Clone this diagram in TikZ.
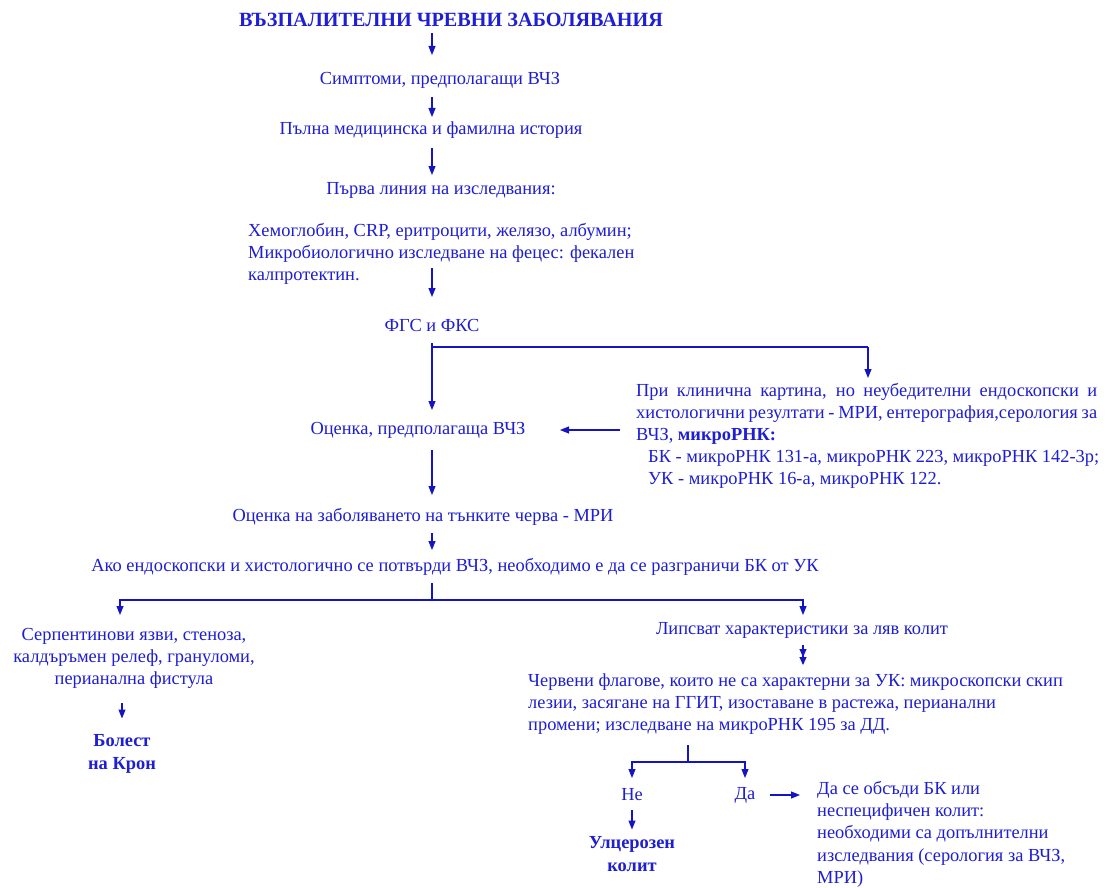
\documentclass[tikz,border=0pt]{standalone}
\usepackage{fontspec}
\setmainfont{Liberation Serif}
\usetikzlibrary{arrows.meta}
\definecolor{txt}{RGB}{30,30,210}
\definecolor{lnc}{RGB}{20,20,195}
\begin{document}
\begin{tikzpicture}[x=1pt,y=-1pt,
 every node/.style={inner sep=0pt, text=txt, font=\fontsize{18.4}{22}\selectfont},
 arr/.style={draw=lnc, line width=1.1pt, -{Triangle[length=9pt,width=7pt]}},
 darr/.style={draw=lnc, line width=1.1pt, -{Triangle[length=8pt,width=7pt]Triangle[length=8pt,width=7pt]}},
 lnk/.style={draw=lnc, line width=1.1pt},
 bold/.style={font=\fontsize{18.4}{23}\selectfont\bfseries}]
\fill[white] (0,0) rectangle (1113,888);
\useasboundingbox (0,0) rectangle (1113,888);

\node[font=\fontsize{20.2}{24}\selectfont\bfseries] (t) at (451,20) {ВЪЗПАЛИТЕЛНИ ЧРЕВНИ ЗАБОЛЯВАНИЯ};
\node (s) at (440,80) {Симптоми, предполагащи ВЧЗ};
\node (h) at (431,130) {Пълна медицинска и фамилна история};
\node (p) at (441,190) {Първа линия на изследвания:};
\node[anchor=north west, align=left] (lab) at (248,223) {Хемоглобин, CRP, еритроцити, желязо, албумин;\\ Микробиологично изследване на фецес: фекален\\ калпротектин.};
\node (f) at (432,325) {ФГС и ФКС};
\node (o) at (418,430) {Оценка, предполагаща ВЧЗ};
\node[anchor=north west, align=left] (r) at (636,383) {\makebox[461pt][s]{При клинична картина, но неубедителни ендоскопски и}\\
\makebox[461pt][s]{хистологични резултати - МРИ, ентерография,серология за}\\
ВЧЗ, \textbf{микроРНК:}\\
\hspace*{12pt}БК - микроРНК 131-а, микроРНК 223, микроРНК 142-3р;\\
\hspace*{12pt}УК - микроРНК 16-а, микроРНК 122.};
\node (m) at (423,517) {Оценка на заболяването на тънките черва - МРИ};
\node (a) at (455,567) {Ако ендоскопски и хистологично се потвърди ВЧЗ, необходимо е да се разграничи БК от УК};
\node[align=center] (c) at (134,658) {Серпентинови язви, стеноза,\\ калдъръмен релеф, грануломи,\\ перианална фистула};
\node[bold, align=center] (k) at (122,753.5) {Болест\\ на Крон};
\node (l) at (802,630) {Липсват характеристики за ляв колит};
\node[anchor=north west, align=left] (rf) at (528,674) {Червени флагове, които не са характерни за УК: микроскопски скип\\ лезии, засягане на ГГИТ, изоставане в растежа, перианални\\ промени; изследване на микроРНК 195 за ДД.};
\node (ne) at (632,795) {Не};
\node (da) at (745,795) {Да};
\node[anchor=north west, align=left, font=\fontsize{18.4}{22.3}\selectfont] (ds) at (817,781) {Да се обсъди БК или\\ неспецифичен колит:\\ необходими са допълнителни\\ изследвания (серология за ВЧЗ,\\ МРИ)};
\node[bold, align=center] (uc) at (632,854.5) {Улцерозен\\ колит};

\coordinate (fb) at (432,347);
\coordinate (rb) at (868,378);
\coordinate (sp) at (432,600);
\coordinate (sp2) at (688,762);

\draw[arr, shorten <=13pt, shorten >=25pt] (t.center -| f) -- (s.center -| f);
\draw[arr, shorten <=17pt, shorten >=13pt] (s.center -| f) -- (h.center -| f);
\draw[arr, shorten <=18pt, shorten >=15pt] (h.center -| f) -- (p.center -| f);
\draw[arr, shorten <=45pt, shorten >=28pt] (lab.north -| f) -- (f.center);
\draw[arr, shorten <=18pt, shorten >=20pt] (f.center) -- (o.center -| f);
\draw[lnk] (fb) -- (fb -| rb);
\draw[arr] (fb -| rb) -- (rb);
\draw[arr, shorten <=16pt, shorten >=142pt] (r.west |- o.center) -- (o.center);
\draw[arr, shorten <=20pt, shorten >=22pt] (o.center -| f) -- (m.center -| f);
\draw[arr, shorten <=16pt, shorten >=17pt] (m.center -| f) -- (a.center -| f);
\draw[lnk, shorten <=16pt] (a.center -| sp) -- (sp);
\draw[arr, shorten >=43pt] (sp) -| ([xshift=-14pt]c.center);
\draw[arr, shorten >=15pt] (sp) -| ([xshift=1pt]l.center);
\draw[arr, shorten <=45pt, shorten >=35pt] (c.center -| k) -- (k.center);
\draw[darr, shorten <=15pt, shorten >=9pt] ([xshift=1pt]l.center) -- ([xshift=1pt]rf.north -| l);
\draw[lnk, shorten <=71pt] (rf.north -| sp2) -- (sp2);
\draw[arr, shorten >=17pt] (sp2) -| (ne.center);
\draw[arr, shorten >=17pt] (sp2) -| (da.center);
\draw[arr, shorten <=25pt, shorten >=17pt] (da.center) -- (da.center -| ds.west);
\draw[arr, shorten <=15pt, shorten >=25pt] (ne.center) -- (uc.center);
\end{tikzpicture}
\end{document}
